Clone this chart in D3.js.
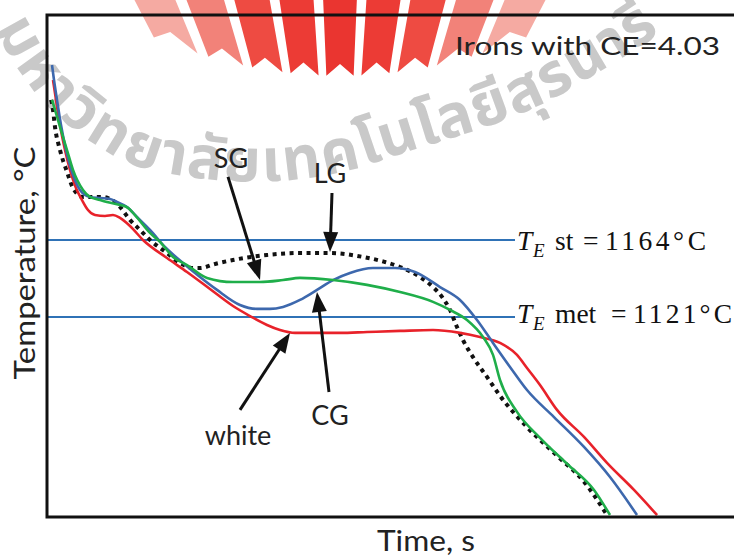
<!DOCTYPE html>
<html lang="en">
<head>
<meta charset="UTF-8">
<title>Cooling curves, CE=4.03</title>
<script src="https://cdnjs.cloudflare.com/ajax/libs/d3/7.8.5/d3.min.js"></script>
<style>
  body { margin: 0; background: #fff; }
  svg { display: block; }
  .lbl { font-family: Lato, "Open Sans", sans-serif; fill: #222; }
  .te { font-family: "Liberation Serif", "Times New Roman", serif; fill: #111; }
  .wm { font-family: "Noto Sans Thai", "Loma", "Garuda", "Norasi", "Tlwg Typo", "DejaVu Sans", sans-serif; fill: #c9c9c9; font-weight: bold; }
</style>
</head>
<body>
<div class="chart"></div>
<script>
// [time (s), temperature (°C)]
const white = [[6,1253.3],[9,1242.2],[13,1228.2],[18,1214.2],[23,1203.1],[29,1193.0],[35,1186.3],[41,1180.7],
  [48,1177.9],[58,1177.4],[66,1177.9],[73,1176.3],[83,1171.8],[96,1164.0],[120,1153.9],[140,1146.1],[163,1136.6],
  [186,1127.1],[203,1121.5],[220,1116.5],[233,1113.7],[248,1112.1],[270,1112.1],[293,1112.1],[320,1112.6],
  [353,1113.2],[386,1113.7],[413,1112.1],[433,1109.8],[453,1106.5],[470,1099.8],[480,1092.5],[493,1083.0],
  [510,1069.1],[537,1054.0],[560,1039.5],[587,1024.4],[610,1010.4]];

const cg = [[5,1261.7],[7,1253.3],[10,1242.2],[14,1228.2],[19,1214.2],[25,1202.0],[33,1191.9],[43,1188.0],
  [53,1187.4],[63,1186.9],[70,1185.2],[80,1182.4],[90,1176.8],[103,1169.6],[118,1160.1],[136,1151.1],[153,1143.3],
  [170,1136.1],[193,1127.7],[210,1125.5],[223,1125.5],[236,1126.6],[253,1130.5],[270,1136.1],[286,1141.6],
  [303,1145.6],[326,1148.3],[348,1148.3],[368,1146.1],[393,1137.7],[413,1130.5],[430,1119.3],[446,1106.5],
  [463,1093.1],[480,1080.2],[507,1065.1],[537,1048.4],[563,1031.6],[590,1010.4]];

const sg = [[5,1242.2],[8,1236.6],[13,1227.1],[20,1214.2],[26,1203.1],[36,1191.9],[43,1188.0],[53,1186.3],
  [60,1185.2],[73,1183.5],[81,1181.9],[88,1177.9],[103,1167.9],[113,1162.9],[126,1154.5],[140,1150.0],[160,1142.8],
  [186,1140.5],[213,1140.5],[236,1141.6],[253,1142.8],[286,1141.6],[320,1138.9],[353,1134.9],[386,1129.4],
  [403,1124.9],[420,1119.3],[436,1109.8],[446,1099.8],[453,1085.8],[470,1068.0],[493,1053.5],[520,1039.0],
  [547,1024.4],[563,1010.4]];

const lg = [[4,1242.2],[6,1236.6],[8,1227.1],[13,1214.2],[20,1202.0],[26,1193.0],[36,1188.0],[48,1188.0],
  [55,1188.0],[65,1186.3],[73,1182.4],[83,1175.2],[93,1169.6],[103,1164.0],[120,1156.7],[133,1151.1],[146,1148.3],
  [153,1148.3],[168,1150.6],[186,1152.8],[220,1155.6],[253,1156.7],[283,1156.7],[316,1154.5],[338,1151.7],
  [353,1148.9],[373,1143.3],[386,1137.7],[395,1132.2],[403,1124.9],[410,1115.4],[416,1108.1],[426,1098.6],
  [440,1087.5],[453,1077.0],[480,1059.5],[510,1043.5],[537,1029.0],[560,1010.4]];

const eutectics = [
  { temp: 1164, phase: "st",  num: "1164°C", endTime: 468 },
  { temp: 1121, phase: "met", num: "1121°C", endTime: 468 }
];

// arrows: from -> to, label anchor (all in time / temperature)
const notes = [
  { label: "SG",    from: [181,1199.2], to: [213,1141.6], at: [184,1204.2] },
  { label: "LG",    from: [285,1190.2], to: [283,1157.3], at: [283,1195.8] },
  { label: "CG",    from: [282,1079.1], to: [270,1134.9], at: [283,1060.7] },
  { label: "white", from: [193,1069.1], to: [243,1112.1], at: [191,1049.5] }
];

const wmName = ['ม','ห','า','วิ','ท','ย','า','ลั','ย','เ','ท','ค','โ','น','โ','ล','ยี','สุ','ร','น','า','รี'];

const W = 734, H = 558;
const mLeft = 47, mTop = 15, mBottom = 517;

const svg = d3.select('.chart').append('svg')
  .attr('width', W).attr('height', H);

const x = d3.scaleLinear().domain([0, 690]).range([mLeft, mLeft + 690]);
const y = d3.scaleLinear().domain([1009.3, 1289.6]).range([mBottom, mTop]);

// ---- watermark (emblem + university name) ----
const wm = svg.append('g');
const fx = 340, fy = 398, nStripe = 9, half = 28 * Math.PI / 180;
const step = 2 * half / nStripe, gap = 0.012;
const fanCol = ["#f5aaa2","#f28279","#ee4b42","#ec3b35","#ea3530","#ec3b35","#ee4b42","#f28279","#f5aaa2"];
const yb = px => 76 - 40 * Math.pow((px - fx) / 190, 2);
function rayAt(a, yy) { return fx + Math.tan(a) * (fy - yy); }
function rayHit(a, lift) {
  let yy = 60;
  for (let k = 0; k < 8; k++) yy = yb(rayAt(a, yy)) - lift;
  return [rayAt(a, yy), yy];
}
for (let i = 0; i < nStripe; i++) {
  const a0 = -half + i * step + gap, a1 = -half + (i + 1) * step - gap, am = (a0 + a1) / 2;
  const p = d3.path();
  p.moveTo(rayAt(a0, -2), -2);
  p.lineTo(rayAt(a1, -2), -2);
  const b1 = rayHit(a1, 0), bm = rayHit(am, 12), b0 = rayHit(a0, 0);
  p.lineTo(b1[0], b1[1]); p.lineTo(bm[0], bm[1]); p.lineTo(b0[0], b0[1]);
  p.closePath();
  wm.append('path').attr('d', p.toString()).attr('fill', fanCol[i]);
}

// name along the arc, glyph cluster by cluster
const arcPts = [[0,10],[20,48],[55,95],[100,132],[140,153],[185,163],[235,168],[290,167],[345,158],[395,142],
  [440,128],[475,117],[510,104],[545,88],[580,68],[620,44],[660,18],[700,-8],[740,-36]];
const arcNode = wm.append('path').attr('fill', 'none')
  .attr('d', d3.line().curve(d3.curveCatmullRom)(arcPts)).node();
const wmG = wm.append('g').attr('class', 'wm').attr('font-size', 60);
const widths = wmName.map(c => {
  const t = wmG.append('text').text(c);
  const w = t.node().getComputedTextLength();
  t.remove();
  return w;
});
const sFirst = 33, sLast = 736;
const inner = d3.sum(widths) - widths[0] / 2 - widths[widths.length - 1] / 2;
const extra = (sLast - sFirst - inner) / (wmName.length - 1);
let s = sFirst;
wmName.forEach((c, i) => {
  if (i > 0) s += widths[i - 1] / 2 + extra + widths[i] / 2;
  const p = arcNode.getPointAtLength(s);
  const pa = arcNode.getPointAtLength(Math.max(0, s - 2)), pb = arcNode.getPointAtLength(s + 2);
  const ang = Math.atan2(pb.y - pa.y, pb.x - pa.x) * 180 / Math.PI;
  wmG.append('text').attr('text-anchor', 'middle').attr('y', 13)
    .attr('transform', `translate(${p.x},${p.y}) rotate(${ang})`)
    .text(c);
});

// ---- eutectic temperature lines ----
const blueLine = "#2f72b6";
svg.selectAll('.eut').data(eutectics).join('line')
  .attr('x1', x(0)).attr('x2', d => x(d.endTime))
  .attr('y1', d => y(d.temp)).attr('y2', d => y(d.temp))
  .attr('stroke', blueLine).attr('stroke-width', 2);

const teG = svg.selectAll('.teLbl').data(eutectics).join('text')
  .attr('class', 'te').attr('font-size', 27.5)
  .attr('y', d => y(d.temp) + (d.phase === 'st' ? 10 : 6));
teG.append('tspan').attr('x', x(470)).attr('font-style', 'italic').text('T');
teG.append('tspan').attr('x', x(486)).attr('dy', 7).attr('font-size', 19).attr('font-style', 'italic').text('E');
teG.append('tspan').attr('x', x(508)).attr('dy', -7).text(d => d.phase);
teG.append('tspan').attr('x', d => x(d.phase === 'st' ? 536 : 564)).text('=');
teG.append('tspan').attr('x', d => x(d.phase === 'st' ? 558 : 586))
  .attr('textLength', d => d.phase === 'st' ? 101 : 99).attr('lengthAdjust', 'spacing')
  .text(d => d.num);

// ---- cooling curves ----
const line = d3.line().x(d => x(d[0])).y(d => y(d[1])).curve(d3.curveMonotoneX);
svg.append('path').datum(lg).attr('d', line).attr('fill', 'none')
  .attr('stroke', '#111').attr('stroke-width', 4).attr('stroke-dasharray', '4 4.5');
svg.append('path').datum(white).attr('d', line).attr('fill', 'none')
  .attr('stroke', '#e8222a').attr('stroke-width', 2.6);
svg.append('path').datum(cg).attr('d', line).attr('fill', 'none')
  .attr('stroke', '#3d68ad').attr('stroke-width', 2.6);
svg.append('path').datum(sg).attr('d', line).attr('fill', 'none')
  .attr('stroke', '#1fae4a').attr('stroke-width', 2.6);

// ---- frame ----
svg.append('path')
  .attr('d', `M${W + 5},${mTop}H${mLeft}V${mBottom}H${W + 5}`)
  .attr('fill', 'none').attr('stroke', '#111').attr('stroke-width', 3);

// ---- arrows and labels ----
const headLen = 20, headHalf = 7.5;
notes.forEach(n => {
  const x0 = x(n.from[0]), y0 = y(n.from[1]), x1 = x(n.to[0]), y1 = y(n.to[1]);
  const len = Math.hypot(x1 - x0, y1 - y0), ux = (x1 - x0) / len, uy = (y1 - y0) / len;
  const bx = x1 - ux * headLen, by = y1 - uy * headLen;
  svg.append('line').attr('x1', x0).attr('y1', y0).attr('x2', bx + ux * 2).attr('y2', by + uy * 2)
    .attr('stroke', '#111').attr('stroke-width', 3);
  svg.append('polygon')
    .attr('points', [[x1, y1], [bx - uy * headHalf, by + ux * headHalf], [bx + uy * headHalf, by - ux * headHalf]].join(' '))
    .attr('fill', '#111');
  svg.append('text').attr('class', 'lbl').attr('font-size', 27)
    .attr('x', x(n.at[0])).attr('y', y(n.at[1])).attr('text-anchor', 'middle').text(n.label);
});

svg.append('text').attr('class', 'lbl').attr('font-size', 25)
  .attr('x', 455).attr('y', 55).attr('textLength', 265).attr('lengthAdjust', 'spacingAndGlyphs')
  .text('Irons with CE=4.03');

svg.append('text').attr('class', 'lbl').attr('font-size', 29)
  .attr('transform', 'translate(35,263) rotate(-90)').attr('text-anchor', 'middle')
  .attr('textLength', 233).attr('lengthAdjust', 'spacingAndGlyphs')
  .text('Temperature, °C');

svg.append('text').attr('class', 'lbl').attr('font-size', 28)
  .attr('x', 426).attr('y', 551).attr('text-anchor', 'middle')
  .attr('textLength', 98).attr('lengthAdjust', 'spacingAndGlyphs')
  .text('Time, s');
</script>
</body>
</html>
